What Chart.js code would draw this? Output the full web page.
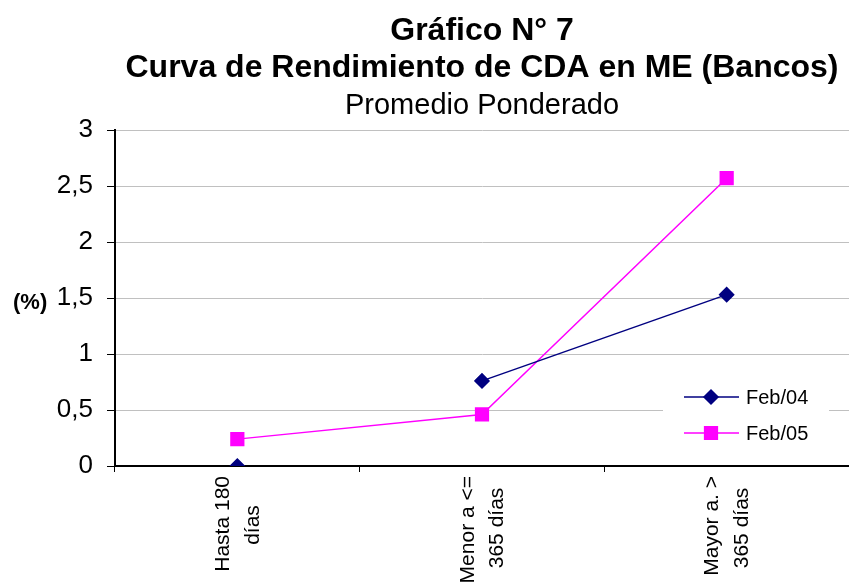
<!DOCTYPE html>
<html>
<head>
<meta charset="utf-8">
<script src="https://cdn.jsdelivr.net/npm/chart.js@4.4.1/dist/chart.umd.min.js"></script>
<style>
  html, body { margin: 0; padding: 0; background: #fff; }
  #wrap { width: 849px; height: 585px; }
</style>
</head>
<body>
<div id="wrap"><canvas id="graph-canvas" width="849" height="585"></canvas></div>
<script>
var categories = [['Hasta 180', 'días'], ['Menor a <=', '365 días'], ['Mayor a. >', '365 días']];
var feb04 = [0, 0.76, 1.53];
var feb05 = [0.24, 0.46, 2.57];
var seriesNames = ['Feb/04', 'Feb/05'];
var titleLines = ['Gráfico N° 7', 'Curva de Rendimiento de CDA en ME (Bancos)'];
var subtitleText = 'Promedio Ponderado';
var yLabel = '(%)';

var FONT = 'Arial, "Liberation Sans", sans-serif';

// pads the shorter line of a rotated label so the lines look centred
var measureCtx = document.createElement('canvas').getContext('2d');
function centreLines(lines) {
    measureCtx.font = '21px ' + FONT;
    let widths = lines.map(l => measureCtx.measureText(l).width);
    let maxW = Math.max(...widths);
    let sp = measureCtx.measureText(' ').width;
    return lines.map((l, i) => l + ' '.repeat(Math.round((maxW - widths[i]) / 2 / sp)));
}

var yNamePlugin = {
    id: 'yName',
    afterDraw(chart) {
        let ctx = chart.ctx;
        let y = chart.scales.y.getPixelForValue(1.5);
        ctx.save();
        ctx.font = 'bold 22px ' + FONT;
        ctx.fillStyle = '#000';
        ctx.textAlign = 'left';
        ctx.textBaseline = 'middle';
        ctx.fillText(yLabel, 13, y + 5);
        ctx.restore();
    }
};

var boxLegend = {
    id: 'boxLegend',
    afterDatasetsDraw(chart) {
        let ctx = chart.ctx;
        let area = chart.chartArea;
        let left = area.right - 186;
        let top = area.bottom - 88;
        ctx.save();
        ctx.fillStyle = '#fff';
        ctx.fillRect(left, top, 166, 76);
        chart.data.datasets.forEach((ds, i) => {
            let y = top + 19 + i * 36;
            ctx.strokeStyle = ds.borderColor;
            ctx.lineWidth = ds.borderWidth;
            ctx.beginPath();
            ctx.moveTo(left + 21, y);
            ctx.lineTo(left + 76, y);
            ctx.stroke();
            Chart.helpers.drawPoint(ctx, {
                pointStyle: ds.pointStyle,
                radius: ds.pointRadius,
                borderWidth: 1,
                rotation: 0
            }, left + 48, y);
            ctx.fillStyle = ds.borderColor;
            ctx.fill();
            ctx.fillStyle = '#000';
            ctx.font = '20px ' + FONT;
            ctx.textAlign = 'left';
            ctx.textBaseline = 'middle';
            ctx.fillText(ds.label, left + 83, y + 1);
        });
        ctx.restore();
    }
};

var config = {
    type: 'line',
    data: {
        labels: categories,
        datasets: [
            {
                label: seriesNames[0],
                data: feb04,
                borderColor: '#000080',
                backgroundColor: '#000080',
                pointBackgroundColor: '#000080',
                pointBorderColor: '#000080',
                pointStyle: 'rectRot',
                pointRadius: 7,
                borderWidth: 1.5,
                tension: 0,
                segment: {
                    borderColor: c => c.p0DataIndex === 0 ? 'rgba(0,0,0,0)' : '#000080'
                }
            },
            {
                label: seriesNames[1],
                data: feb05,
                borderColor: '#ff00ff',
                backgroundColor: '#ff00ff',
                pointBackgroundColor: '#ff00ff',
                pointBorderColor: '#ff00ff',
                pointStyle: 'rect',
                pointRadius: 9,
                borderWidth: 1.5,
                tension: 0
            }
        ]
    },
    options: {
        responsive: false,
        animation: false,
        layout: { autoPadding: false, padding: { left: 0, right: -7, top: 0, bottom: 0 } },
        plugins: {
            legend: { display: false },
            tooltip: { enabled: false },
            title: {
                display: true,
                text: titleLines,
                fullSize: false,
                color: '#000',
                font: { family: FONT, size: 32, weight: 'bold', lineHeight: 1.17 },
                padding: { top: 12, bottom: 0 }
            },
            subtitle: {
                display: true,
                text: subtitleText,
                fullSize: false,
                color: '#000',
                font: { family: FONT, size: 29, weight: 'normal', lineHeight: 1.15 },
                padding: { top: 2.5, bottom: 7.3 }
            }
        },
        scales: {
            x: {
                offset: true,
                afterFit: function (scale) {
                    scale.paddingLeft = 0;
                    scale.paddingRight = 0;
                    scale.height = 119;
                },
                grid: {
                    offset: true,
                    drawOnChartArea: false,
                    color: '#000',
                    tickLength: 6
                },
                border: { color: '#000', width: 2 },
                ticks: {
                    minRotation: 90,
                    maxRotation: 90,
                    color: '#000',
                    padding: 4,
                    labelOffset: -14,
                    font: { family: FONT, size: 21, lineHeight: 1.4 },
                    callback: function (value, index) {
                        return centreLines(categories[index]);
                    }
                }
            },
            y: {
                min: 0,
                max: 3,
                afterFit: function (scale) { scale.width = 115; },
                grid: {
                    color: '#c0c0c0',
                    tickColor: '#000',
                    tickLength: 8
                },
                border: { color: '#000', width: 2 },
                ticks: {
                    stepSize: 0.5,
                    color: '#000',
                    padding: 14,
                    font: { family: FONT, size: 26 },
                    callback: v => String(v).replace('.', ',')
                }
            }
        }
    },
    plugins: [yNamePlugin, boxLegend]
};

var canvas = window.document.getElementById('graph-canvas');
var context = canvas.getContext('2d');
var chart = new Chart(context, config);
</script>
</body>
</html>
